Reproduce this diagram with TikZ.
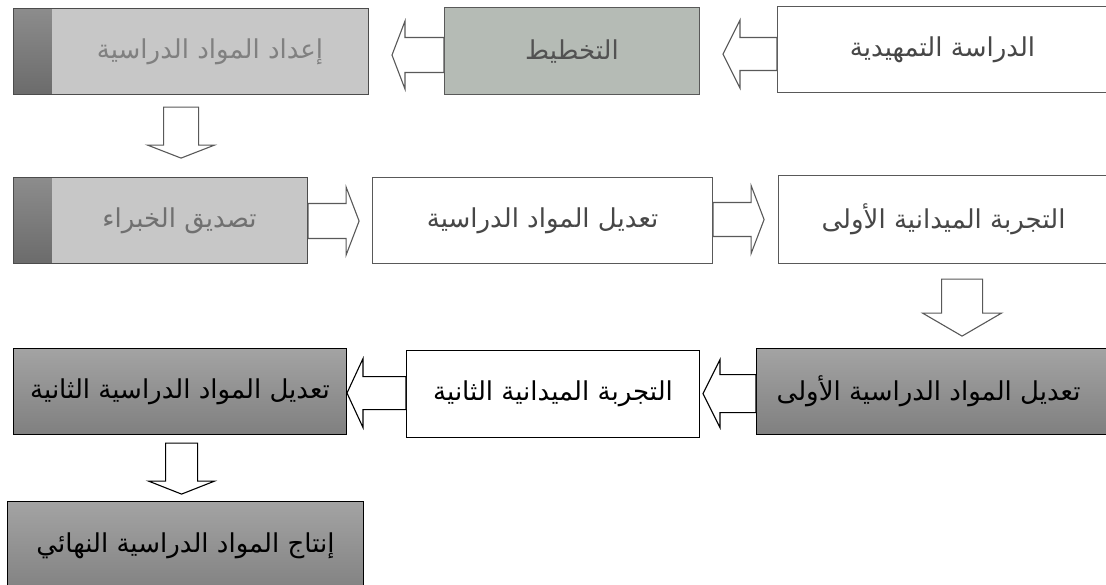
\documentclass[tikz,border=0pt]{standalone}
\usepackage{fontspec}
\newfontfamily\arabicfont[Script=Arabic]{DejaVu Sans}
\TeXXeTstate=1
\usetikzlibrary{calc}
\tikzset{
  box/.style={draw=#1, line width=1.1pt, inner sep=0pt, anchor=north west,
    font=\arabicfont\fontsize{26}{31}\selectfont},
  whitebox/.style={box=black!65, fill=white, text=black!72},
  stripbox/.style={box=black!70, fill=black!22,
    path picture={\shade[top color=black!45, bottom color=black!58]
      (path picture bounding box.north west) rectangle
      ([xshift=38pt]path picture bounding box.south west);}},
  darkbox/.style={box=black, top color=black!36, bottom color=black!50, text=black},
  arr/.style={draw=#1, line width=1.1pt, fill=white, line join=miter},
  pics/barrow/.style n args={5}{code={
    \draw[arr=#5] (0,-#3) -- (#1,-#3) -- (#1,-#4) -- ({#1+#2},0) -- (#1,#4) -- (#1,#3) -- (0,#3) -- cycle;}}
}
\begin{document}
\begin{tikzpicture}[x=1pt,y=-1pt]
\useasboundingbox (0,0) rectangle (1106,585);
% row 1
\node[stripbox, text=black!50, minimum width=355, minimum height=86] (A) at (13,8)
  {\hspace*{38pt}\raisebox{-3pt}{\beginR إعداد المواد الدراسية\endR}};
\node[box=black!65, fill=black!30!green!6!gray!55, text=black!68, minimum width=255, minimum height=87] (B) at (444,7)
  {\beginR التخطيط\endR};
\node[whitebox, minimum width=340, minimum height=86] (C) at (777,6)
  {\hspace*{-10pt}\beginR الدراسة التمهيدية\endR};
% row 2
\node[stripbox, text=black!56, minimum width=294, minimum height=86] (D) at (13,177)
  {\hspace*{38pt}\beginR تصديق الخبراء\endR};
\node[whitebox, minimum width=340, minimum height=86] (E) at (372,177)
  {\beginR تعديل المواد الدراسية\endR};
\node[whitebox, minimum width=340, minimum height=88] (F) at (778,175)
  {\hspace*{-10pt}\beginR التجربة الميدانية الأولى\endR};
% row 3
\node[darkbox, minimum width=360, minimum height=86] (G) at (756,348)
  {\hspace*{-16pt}\beginR تعديل المواد الدراسية الأولى\endR};
\node[box=black, fill=white, text=black, minimum width=293, minimum height=87] (H) at (406,350)
  {\beginR التجربة الميدانية الثانية\endR};
\node[darkbox, minimum width=333, minimum height=86] (I) at (13,348)
  {\beginR تعديل المواد الدراسية الثانية\endR};
\node[darkbox, minimum width=356, minimum height=95] (J) at (7,501)
  {\raisebox{12pt}{\beginR إنتاج المواد الدراسية النهائي\endR}};
% connectors (block arrows)
\pic[rotate=180] at ($(B.west)+(0,4)$) {barrow={39}{13}{17.5}{34}{black!65}};
\pic[rotate=180] at ($(C.west)+(0,4.5)$) {barrow={37}{17}{16.5}{34}{black!65}};
\pic[rotate=-90] at ($(A.south)+(-10,12)$) {barrow={38}{13}{17.5}{33.5}{black!65}};
\pic at ($(D.east)+(0,0.5)$) {barrow={38}{13}{17.5}{34}{black!65}};
\pic at ($(E.east)+(0,-1)$) {barrow={38}{13}{17}{34}{black!65}};
\pic[rotate=-90] at ($(F.south)+(13.5,15)$) {barrow={34}{23}{20.5}{39.5}{black!65}};
\pic[rotate=180] at ($(G.west)+(0,2)$) {barrow={36}{17}{19}{34}{black}};
\pic[rotate=180] at ($(H.west)+(0,-1)$) {barrow={43}{16}{16.5}{34.5}{black}};
\pic[rotate=-90] at ($(I.south)+(1.5,8)$) {barrow={38}{13}{16}{33}{black}};
\end{tikzpicture}
\end{document}
